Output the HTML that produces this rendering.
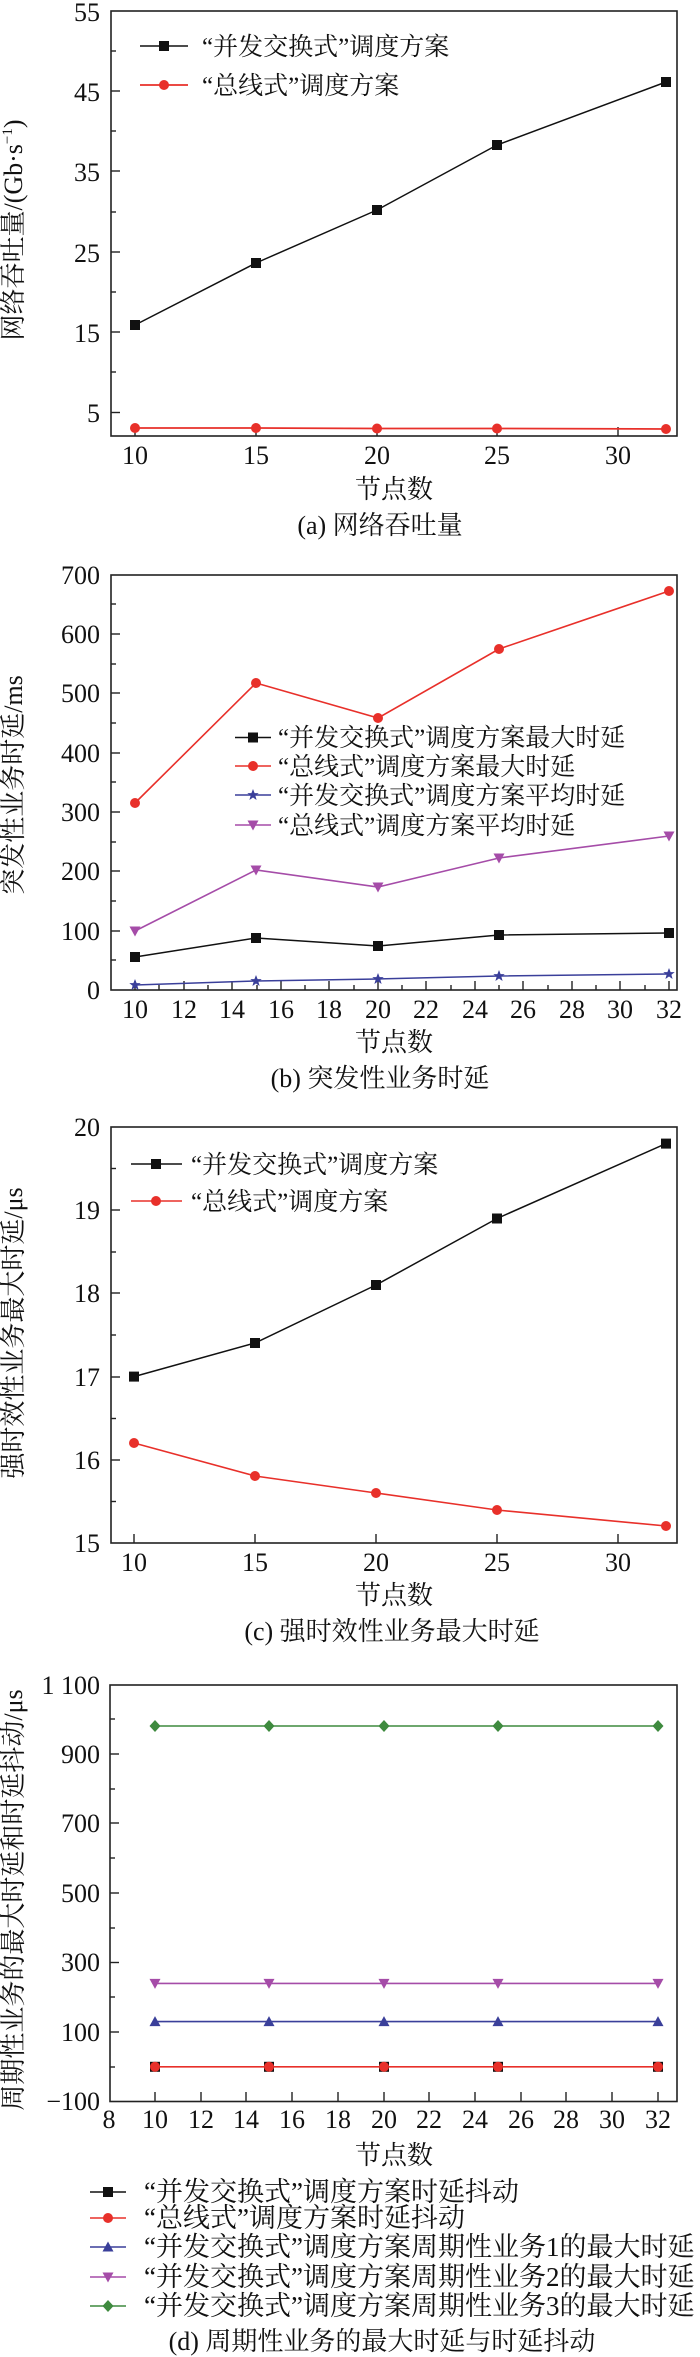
<!DOCTYPE html>
<html><head><meta charset="utf-8"><style>
html,body{margin:0;padding:0;background:#fff}
svg{display:block}
text{font-family:"Liberation Serif","Noto Serif CJK SC",serif;fill:#111}
.t{font-size:26px}
.l{font-size:25px}
.ld{font-size:27px}
.ax{stroke:#222;stroke-width:1.6;fill:none}
.tk{stroke:#222;stroke-width:1.4}
</style></head><body>
<svg width="700" height="2357" viewBox="0 0 700 2357" xmlns="http://www.w3.org/2000/svg">
<defs>
<rect id="sq" x="-5" y="-5" width="10" height="10" fill="#111"/>
<circle id="ci" r="5" fill="#e8302a"/>
<polygon id="st" points="0,-6 1.6,-1.9 5.7,-1.9 2.4,0.8 3.6,5 0,2.5 -3.6,5 -2.4,0.8 -5.7,-1.9 -1.6,-1.9" fill="#3a3f9a"/>
<polygon id="dt" points="-5.5,-4.5 5.5,-4.5 0,5.5" fill="#a54ca8"/>
<polygon id="ut" points="-5.5,4.5 5.5,4.5 0,-5.5" fill="#3a3f9a"/>
<polygon id="dm" points="0,-6 5.5,0 0,6 -5.5,0" fill="#3e8a3e"/>
</defs>

<!-- ===== (a) ===== -->
<rect class="ax" x="111" y="11" width="566" height="425"/>
<g class="tk">
<line x1="111" y1="412.5" x2="120" y2="412.5"/><line x1="111" y1="332" x2="120" y2="332"/><line x1="111" y1="252" x2="120" y2="252"/><line x1="111" y1="171" x2="120" y2="171"/><line x1="111" y1="91" x2="120" y2="91"/>
<line x1="111" y1="372" x2="116" y2="372"/><line x1="111" y1="292" x2="116" y2="292"/><line x1="111" y1="212" x2="116" y2="212"/><line x1="111" y1="131" x2="116" y2="131"/><line x1="111" y1="51" x2="116" y2="51"/>
<line x1="135" y1="436" x2="135" y2="427"/><line x1="256" y1="436" x2="256" y2="427"/><line x1="377" y1="436" x2="377" y2="427"/><line x1="497" y1="436" x2="497" y2="427"/><line x1="618" y1="436" x2="618" y2="427"/>
</g>
<g class="t" text-anchor="end">
<text x="100" y="21">55</text><text x="100" y="101">45</text><text x="100" y="181">35</text><text x="100" y="262">25</text><text x="100" y="342">15</text><text x="100" y="422">5</text>
</g>
<g class="t" text-anchor="middle">
<text x="135" y="464">10</text><text x="256" y="464">15</text><text x="377" y="464">20</text><text x="497" y="464">25</text><text x="618" y="464">30</text>
<text x="394" y="498">节点数</text>
<text x="380" y="534">(a) 网络吞吐量</text>
</g>
<text class="t" text-anchor="middle" transform="translate(22,230) rotate(-90)">网络吞吐量/(Gb·s<tspan font-size="15" dy="-10">−1</tspan><tspan dy="10">)</tspan></text>
<polyline points="135,325 256,263 377,210 497,145 666,82" fill="none" stroke="#111" stroke-width="1.5"/>
<use href="#sq" x="135" y="325"/><use href="#sq" x="256" y="263"/><use href="#sq" x="377" y="210"/><use href="#sq" x="497" y="145"/><use href="#sq" x="666" y="82"/>
<polyline points="135,428 256,428 377,428.5 497,428.5 666,429" fill="none" stroke="#e8302a" stroke-width="1.8"/>
<use href="#ci" x="135" y="428"/><use href="#ci" x="256" y="428"/><use href="#ci" x="377" y="428.5"/><use href="#ci" x="497" y="428.5"/><use href="#ci" x="666" y="429"/>
<line x1="140" y1="46" x2="188" y2="46" stroke="#111" stroke-width="1.5"/><use href="#sq" x="164" y="46"/>
<text class="l" x="202" y="55">“并发交换式”调度方案</text>
<line x1="140" y1="85" x2="188" y2="85" stroke="#e8302a" stroke-width="1.8"/><use href="#ci" x="164" y="85"/>
<text class="l" x="202" y="94">“总线式”调度方案</text>

<!-- ===== (b) ===== -->
<rect class="ax" x="111" y="575" width="566" height="415"/>
<g class="tk">
<line x1="111" y1="931" x2="120" y2="931"/><line x1="111" y1="871" x2="120" y2="871"/><line x1="111" y1="812" x2="120" y2="812"/><line x1="111" y1="753" x2="120" y2="753"/><line x1="111" y1="693" x2="120" y2="693"/><line x1="111" y1="634" x2="120" y2="634"/>
<line x1="111" y1="960" x2="116" y2="960"/><line x1="111" y1="901" x2="116" y2="901"/><line x1="111" y1="842" x2="116" y2="842"/><line x1="111" y1="782" x2="116" y2="782"/><line x1="111" y1="723" x2="116" y2="723"/><line x1="111" y1="664" x2="116" y2="664"/><line x1="111" y1="604" x2="116" y2="604"/>
<line x1="135" y1="990" x2="135" y2="981"/><line x1="184" y1="990" x2="184" y2="981"/><line x1="232" y1="990" x2="232" y2="981"/><line x1="281" y1="990" x2="281" y2="981"/><line x1="329" y1="990" x2="329" y2="981"/><line x1="378" y1="990" x2="378" y2="981"/><line x1="426" y1="990" x2="426" y2="981"/><line x1="475" y1="990" x2="475" y2="981"/><line x1="523" y1="990" x2="523" y2="981"/><line x1="572" y1="990" x2="572" y2="981"/><line x1="620" y1="990" x2="620" y2="981"/><line x1="669" y1="990" x2="669" y2="981"/>
<line x1="159" y1="990" x2="159" y2="985"/><line x1="208" y1="990" x2="208" y2="985"/><line x1="257" y1="990" x2="257" y2="985"/><line x1="305" y1="990" x2="305" y2="985"/><line x1="354" y1="990" x2="354" y2="985"/><line x1="402" y1="990" x2="402" y2="985"/><line x1="451" y1="990" x2="451" y2="985"/><line x1="499" y1="990" x2="499" y2="985"/><line x1="548" y1="990" x2="548" y2="985"/><line x1="596" y1="990" x2="596" y2="985"/><line x1="645" y1="990" x2="645" y2="985"/>
</g>
<g class="t" text-anchor="end">
<text x="100" y="999">0</text><text x="100" y="940">100</text><text x="100" y="880">200</text><text x="100" y="821">300</text><text x="100" y="762">400</text><text x="100" y="702">500</text><text x="100" y="643">600</text><text x="100" y="584">700</text>
</g>
<g class="t" text-anchor="middle">
<text x="135" y="1018">10</text><text x="184" y="1018">12</text><text x="232" y="1018">14</text><text x="281" y="1018">16</text><text x="329" y="1018">18</text><text x="378" y="1018">20</text><text x="426" y="1018">22</text><text x="475" y="1018">24</text><text x="523" y="1018">26</text><text x="572" y="1018">28</text><text x="620" y="1018">30</text><text x="669" y="1018">32</text>
<text x="394" y="1051">节点数</text>
<text x="380" y="1087">(b) 突发性业务时延</text>
</g>
<text class="t" text-anchor="middle" transform="translate(22,785) rotate(-90)">突发性业务时延/ms</text>
<polyline points="135,803 256,683 378,718 499,649 669,591" fill="none" stroke="#e8302a" stroke-width="1.6"/>
<use href="#ci" x="135" y="803"/><use href="#ci" x="256" y="683"/><use href="#ci" x="378" y="718"/><use href="#ci" x="499" y="649"/><use href="#ci" x="669" y="591"/>
<polyline points="135,931 256,870 378,887 499,858 669,836" fill="none" stroke="#a54ca8" stroke-width="1.6"/>
<use href="#dt" x="135" y="931"/><use href="#dt" x="256" y="870"/><use href="#dt" x="378" y="887"/><use href="#dt" x="499" y="858"/><use href="#dt" x="669" y="836"/>
<polyline points="135,957 256,938 378,946 499,935 669,933" fill="none" stroke="#111" stroke-width="1.5"/>
<use href="#sq" x="135" y="957"/><use href="#sq" x="256" y="938"/><use href="#sq" x="378" y="946"/><use href="#sq" x="499" y="935"/><use href="#sq" x="669" y="933"/>
<polyline points="135,985 256,981 378,979 499,976 669,974" fill="none" stroke="#3a3f9a" stroke-width="1.5"/>
<use href="#st" x="135" y="985"/><use href="#st" x="256" y="981"/><use href="#st" x="378" y="979"/><use href="#st" x="499" y="976"/><use href="#st" x="669" y="974"/>
<line x1="235" y1="737.5" x2="271" y2="737.5" stroke="#111" stroke-width="1.5"/><use href="#sq" x="253" y="737.5"/>
<text class="l" x="278" y="746">“并发交换式”调度方案最大时延</text>
<line x1="235" y1="766" x2="271" y2="766" stroke="#e8302a" stroke-width="1.6"/><use href="#ci" x="253" y="766"/>
<text class="l" x="278" y="775">“总线式”调度方案最大时延</text>
<line x1="235" y1="795" x2="271" y2="795" stroke="#3a3f9a" stroke-width="1.5"/><use href="#st" x="253" y="795"/>
<text class="l" x="278" y="804">“并发交换式”调度方案平均时延</text>
<line x1="235" y1="825" x2="271" y2="825" stroke="#a54ca8" stroke-width="1.6"/><use href="#dt" x="253" y="825"/>
<text class="l" x="278" y="834">“总线式”调度方案平均时延</text>

<!-- ===== (c) ===== -->
<rect class="ax" x="111" y="1127" width="566" height="416"/>
<g class="tk">
<line x1="111" y1="1460" x2="120" y2="1460"/><line x1="111" y1="1377" x2="120" y2="1377"/><line x1="111" y1="1293" x2="120" y2="1293"/><line x1="111" y1="1210" x2="120" y2="1210"/>
<line x1="111" y1="1501.5" x2="116" y2="1501.5"/><line x1="111" y1="1418.5" x2="116" y2="1418.5"/><line x1="111" y1="1335" x2="116" y2="1335"/><line x1="111" y1="1252" x2="116" y2="1252"/><line x1="111" y1="1168.5" x2="116" y2="1168.5"/>
<line x1="134" y1="1543" x2="134" y2="1534"/><line x1="255" y1="1543" x2="255" y2="1534"/><line x1="376" y1="1543" x2="376" y2="1534"/><line x1="497" y1="1543" x2="497" y2="1534"/><line x1="618" y1="1543" x2="618" y2="1534"/>
</g>
<g class="t" text-anchor="end">
<text x="100" y="1552">15</text><text x="100" y="1469">16</text><text x="100" y="1386">17</text><text x="100" y="1302">18</text><text x="100" y="1219">19</text><text x="100" y="1136">20</text>
</g>
<g class="t" text-anchor="middle">
<text x="134" y="1571">10</text><text x="255" y="1571">15</text><text x="376" y="1571">20</text><text x="497" y="1571">25</text><text x="618" y="1571">30</text>
<text x="394" y="1604">节点数</text>
<text x="392" y="1640">(c) 强时效性业务最大时延</text>
</g>
<text class="t" text-anchor="middle" transform="translate(22,1333) rotate(-90)">强时效性业务最大时延/μs</text>
<polyline points="134,1376.6 255,1343 376,1285 497,1218.5 666,1143.6" fill="none" stroke="#111" stroke-width="1.5"/>
<use href="#sq" x="134" y="1376.6"/><use href="#sq" x="255" y="1343"/><use href="#sq" x="376" y="1285"/><use href="#sq" x="497" y="1218.5"/><use href="#sq" x="666" y="1143.6"/>
<polyline points="134,1443 255,1476 376,1493 497,1510 666,1526" fill="none" stroke="#e8302a" stroke-width="1.6"/>
<use href="#ci" x="134" y="1443"/><use href="#ci" x="255" y="1476"/><use href="#ci" x="376" y="1493"/><use href="#ci" x="497" y="1510"/><use href="#ci" x="666" y="1526"/>
<line x1="131" y1="1164" x2="182" y2="1164" stroke="#111" stroke-width="1.5"/><use href="#sq" x="156" y="1164"/>
<text class="l" x="191" y="1173">“并发交换式”调度方案</text>
<line x1="131" y1="1201" x2="182" y2="1201" stroke="#e8302a" stroke-width="1.6"/><use href="#ci" x="156" y="1201"/>
<text class="l" x="191" y="1210">“总线式”调度方案</text>

<!-- ===== (d) ===== -->
<rect class="ax" x="110" y="1685" width="567" height="416.5"/>
<g class="tk">
<line x1="110" y1="2032" x2="119" y2="2032"/><line x1="110" y1="1962.5" x2="119" y2="1962.5"/><line x1="110" y1="1893" x2="119" y2="1893"/><line x1="110" y1="1823" x2="119" y2="1823"/><line x1="110" y1="1754" x2="119" y2="1754"/>
<line x1="110" y1="2067" x2="115" y2="2067"/><line x1="110" y1="1997" x2="115" y2="1997"/><line x1="110" y1="1928" x2="115" y2="1928"/><line x1="110" y1="1858" x2="115" y2="1858"/><line x1="110" y1="1789" x2="115" y2="1789"/><line x1="110" y1="1719" x2="115" y2="1719"/>
<line x1="155" y1="2101" x2="155" y2="2092"/><line x1="201" y1="2101" x2="201" y2="2092"/><line x1="246" y1="2101" x2="246" y2="2092"/><line x1="292" y1="2101" x2="292" y2="2092"/><line x1="338" y1="2101" x2="338" y2="2092"/><line x1="384" y1="2101" x2="384" y2="2092"/><line x1="429" y1="2101" x2="429" y2="2092"/><line x1="475" y1="2101" x2="475" y2="2092"/><line x1="521" y1="2101" x2="521" y2="2092"/><line x1="566" y1="2101" x2="566" y2="2092"/><line x1="612" y1="2101" x2="612" y2="2092"/><line x1="658" y1="2101" x2="658" y2="2092"/>
</g>
<g class="t" text-anchor="end">
<text x="100" y="2110">−100</text><text x="100" y="2041">100</text><text x="100" y="1971">300</text><text x="100" y="1902">500</text><text x="100" y="1832">700</text><text x="100" y="1763">900</text><text x="100" y="1694">1 100</text>
</g>
<g class="t" text-anchor="middle">
<text x="109" y="2128">8</text><text x="155" y="2128">10</text><text x="201" y="2128">12</text><text x="246" y="2128">14</text><text x="292" y="2128">16</text><text x="338" y="2128">18</text><text x="384" y="2128">20</text><text x="429" y="2128">22</text><text x="475" y="2128">24</text><text x="521" y="2128">26</text><text x="566" y="2128">28</text><text x="612" y="2128">30</text><text x="658" y="2128">32</text>
<text x="394" y="2164">节点数</text>
<text x="382" y="2350">(d) 周期性业务的最大时延与时延抖动</text>
</g>
<text class="t" text-anchor="middle" transform="translate(22,1900) rotate(-90)">周期性业务的最大时延和时延抖动/μs</text>
<line x1="155" y1="1726" x2="658" y2="1726" stroke="#3e8a3e" stroke-width="1.6"/>
<use href="#dm" x="155" y="1726"/><use href="#dm" x="269" y="1726"/><use href="#dm" x="384" y="1726"/><use href="#dm" x="498" y="1726"/><use href="#dm" x="658" y="1726"/>
<line x1="155" y1="1983.4" x2="658" y2="1983.4" stroke="#a54ca8" stroke-width="1.6"/>
<use href="#dt" x="155" y="1983.4"/><use href="#dt" x="269" y="1983.4"/><use href="#dt" x="384" y="1983.4"/><use href="#dt" x="498" y="1983.4"/><use href="#dt" x="658" y="1983.4"/>
<line x1="155" y1="2021.6" x2="658" y2="2021.6" stroke="#3a3f9a" stroke-width="1.6"/>
<use href="#ut" x="155" y="2021.6"/><use href="#ut" x="269" y="2021.6"/><use href="#ut" x="384" y="2021.6"/><use href="#ut" x="498" y="2021.6"/><use href="#ut" x="658" y="2021.6"/>
<line x1="155" y1="2066.8" x2="658" y2="2066.8" stroke="#e8302a" stroke-width="1.6"/>
<use href="#sq" x="155" y="2066.8"/><use href="#sq" x="269" y="2066.8"/><use href="#sq" x="384" y="2066.8"/><use href="#sq" x="498" y="2066.8"/><use href="#sq" x="658" y="2066.8"/>
<use href="#ci" x="155" y="2066.8"/><use href="#ci" x="269" y="2066.8"/><use href="#ci" x="384" y="2066.8"/><use href="#ci" x="498" y="2066.8"/><use href="#ci" x="658" y="2066.8"/>
<line x1="90" y1="2192" x2="126" y2="2192" stroke="#111" stroke-width="1.5"/><use href="#sq" x="108" y="2192"/>
<text class="ld" x="144" y="2201">“并发交换式”调度方案时延抖动</text>
<line x1="90" y1="2218" x2="126" y2="2218" stroke="#e8302a" stroke-width="1.6"/><use href="#ci" x="108" y="2218"/>
<text class="ld" x="144" y="2227">“总线式”调度方案时延抖动</text>
<line x1="90" y1="2247" x2="126" y2="2247" stroke="#3a3f9a" stroke-width="1.6"/><use href="#ut" x="108" y="2247"/>
<text class="ld" x="144" y="2256">“并发交换式”调度方案周期性业务1的最大时延</text>
<line x1="90" y1="2277" x2="126" y2="2277" stroke="#a54ca8" stroke-width="1.6"/><use href="#dt" x="108" y="2277"/>
<text class="ld" x="144" y="2286">“并发交换式”调度方案周期性业务2的最大时延</text>
<line x1="90" y1="2306" x2="126" y2="2306" stroke="#3e8a3e" stroke-width="1.6"/><use href="#dm" x="108" y="2306"/>
<text class="ld" x="144" y="2315">“并发交换式”调度方案周期性业务3的最大时延</text>
</svg>
</body></html>
